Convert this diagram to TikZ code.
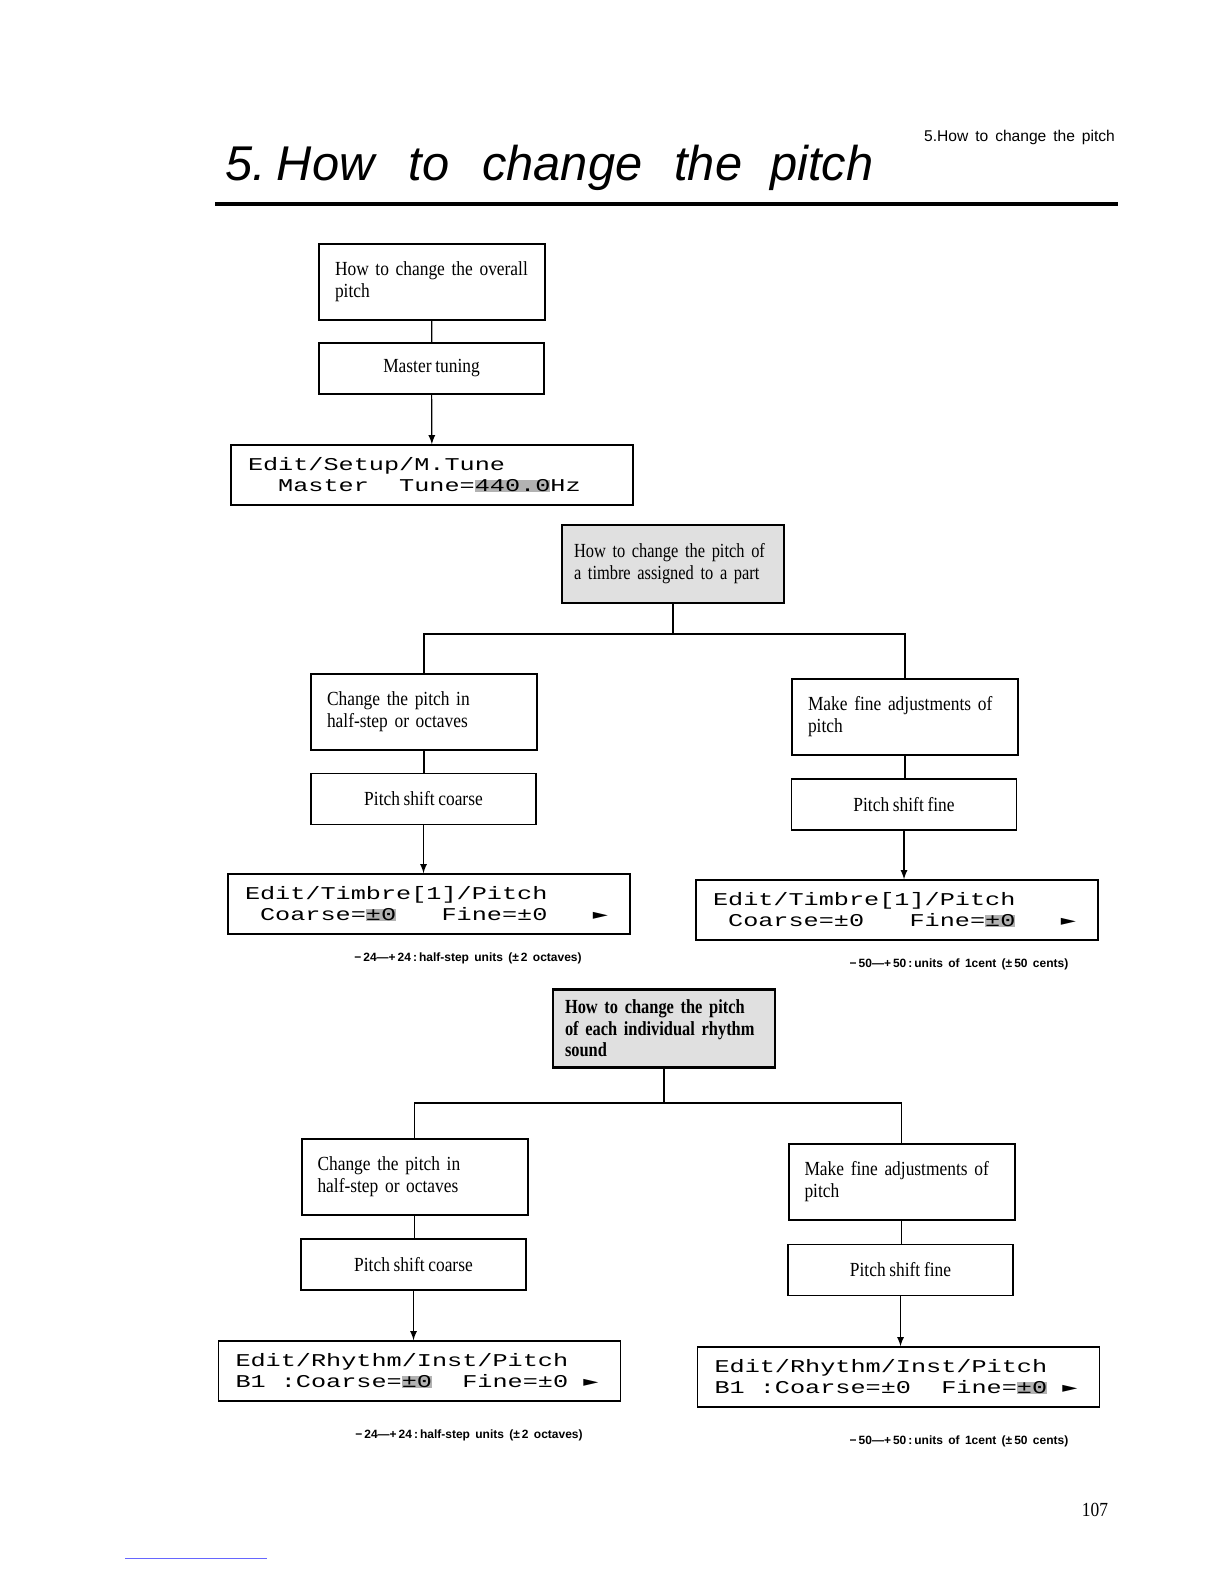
\documentclass[tikz,border=0pt]{standalone}
\usepackage{fontspec}
\usepackage[usenames,dvipsnames]{xcolor}
\usepackage{tikz}
\newfontfamily\boxfont[FakeStretch=0.87, WordSpace=0.85]{Liberation Serif}
\newfontfamily\topicfont[FakeStretch=0.82]{Liberation Serif}
\newfontfamily\lcdfont[FakeStretch=1.4]{Liberation Mono}
\newfontfamily\lcdsym[FakeStretch=1.4]{DejaVu Sans Mono}
\newfontfamily\titlefont{Liberation Sans}
\newfontfamily\headfont[WordSpace=2]{Liberation Sans}
\newfontfamily\capfont[WordSpace=1.6]{Liberation Sans}
\newcommand{\lcdsel}[1]{{\setlength{\fboxsep}{0pt}\colorbox{gray!60}{#1}}}
\newcommand{\lcdsp}{\phantom{0}}
\newcommand{\lcdnext}{{\lcdsym ►}}

\begin{document}
\begin{tikzpicture}[x=0.5pt, y=-0.5pt,
    note/.style={draw, line width=1pt, inner xsep=8pt, text width=97pt, minimum height=38pt, align=left, font=\boxfont\fontsize{10}{11}\selectfont},
    topic/.style={note, line width=1.4pt, fill=gray!24, inner xsep=6pt, text width=99pt, minimum height=39pt, font=\topicfont\fontsize{10}{11}\selectfont},
    key/.style={draw, line width=0.6pt, minimum width=112.5pt, minimum height=25.5pt, font=\boxfont\fontsize{10}{11}\selectfont},
    lcd/.style={draw, line width=0.7pt, inner xsep=8.5pt, text width=184pt, minimum height=30pt, align=left, font=\lcdfont\fontsize{9}{10.5}\selectfont},
    rangenote/.style={font=\capfont\bfseries\fontsize{6}{7}\selectfont},
    link/.style={line width=0.6pt},
    feed/.style={link, ->, >=latex}]
        \useasboundingbox (0,0) rectangle (1224,1584);

        \node[anchor=base west, font=\titlefont\itshape\fontsize{24.4}{28}\selectfont] (title) at (218,180)
            {5.\hspace{5.6pt}How\hspace{17pt}to\hspace{16.5pt}change\hspace{16pt}the\hspace{14pt}pitch};
        \node[anchor=base east, font=\headfont\fontsize{7.8}{9}\selectfont] (head) at (1122,141) {5.How to change the pitch};
        \draw[line width=2pt] (215,204) -- (1118,204);

        \node[note] (ovr) at (432,281.5) {How to change the overall\\pitch};
        \node[key] (mtune) at (431.5,368.5) {Master tuning};
        \node[lcd] (mlcd) at (432,475) {Edit/Setup/M.Tune\\\lcdsp\lcdsp Master\lcdsp\lcdsp Tune=\lcdsel{440.0}Hz};
        \draw[link] (ovr) -- (mtune);
        \draw[feed] (mtune) -- (mlcd);

        \node[topic] (timbre) at (673,564) {How to change the pitch of\\a timbre assigned to a part};
        \node[note] (tl) at (424,711.5) {Change the pitch in\\half-step or octaves};
        \node[note] (tr) at (905,717) {Make fine adjustments of\\pitch};
        \node[key] (tlkey) at (423.5,799) {Pitch shift coarse};
        \node[key] (trkey) at (904,804.5) {Pitch shift fine};
        \node[lcd] (tllcd) at (429,904) {Edit/Timbre[1]/Pitch\\\lcdsp Coarse=\lcdsel{±0}\lcdsp\lcdsp\lcdsp Fine=±0\lcdsp\lcdsp\lcdsp\lcdnext};
        \node[lcd] (trlcd) at (897,910) {Edit/Timbre[1]/Pitch\\\lcdsp Coarse=±0\lcdsp\lcdsp\lcdsp Fine=\lcdsel{±0}\lcdsp\lcdsp\lcdsp\lcdnext};
        \node[rangenote] (tlcap) at (468,958) {−\,24—+\,24\,:\,half-step units (±\,2 octaves)};
        \node[rangenote] (trcap) at (959,964) {−\,50—+\,50\,:\,units of 1cent (±\,50 cents)};
        \coordinate (tbar) at (0,634);
        \draw[link] (timbre.south) -- (timbre.south |- tbar) -| (tl.north);
        \draw[link] (timbre.south |- tbar) -| (tr.north);
        \draw[link] (tl) -- (tl |- tlkey.north);
        \draw[link] (tr) -- (tr |- trkey.north);
        \draw[feed] (tlkey) -- (tlkey |- tllcd.north);
        \draw[feed] (trkey) -- (trkey |- trlcd.north);

        \node[topic, font=\topicfont\bfseries\fontsize{10}{10.8}\selectfont] (rhythm) at (664,1028.5) {How to change the pitch\\of each individual rhythm\\sound};
        \node[note] (rl) at (414.5,1177) {Change the pitch in\\half-step or octaves};
        \node[note] (rr) at (901.5,1182) {Make fine adjustments of\\pitch};
        \node[key] (rlkey) at (413.5,1264.5) {Pitch shift coarse};
        \node[key] (rrkey) at (900.5,1270) {Pitch shift fine};
        \node[lcd] (rllcd) at (419.5,1371) {Edit/Rhythm/Inst/Pitch\\B1\lcdsp:Coarse=\lcdsel{±0}\lcdsp\lcdsp Fine=±0\lcdsp\lcdnext};
        \node[lcd] (rrlcd) at (898.5,1377) {Edit/Rhythm/Inst/Pitch\\B1\lcdsp:Coarse=±0\lcdsp\lcdsp Fine=\lcdsel{±0}\lcdsp\lcdnext};
        \node[rangenote] (rlcap) at (469,1435) {−\,24—+\,24\,:\,half-step units (±\,2 octaves)};
        \node[rangenote] (rrcap) at (959,1441) {−\,50—+\,50\,:\,units of 1cent (±\,50 cents)};
        \coordinate (rbar) at (0,1103);
        \draw[link] (rhythm.south) -- (rhythm.south |- rbar) -| (rl.north);
        \draw[link] (rhythm.south |- rbar) -| (rr.north);
        \draw[link] (rl) -- (rl |- rlkey.north);
        \draw[link] (rr) -- (rr |- rrkey.north);
        \draw[feed] (rlkey) -- (rlkey |- rllcd.north);
        \draw[feed] (rrkey) -- (rrkey |- rrlcd.north);

        \node[font=\boxfont\fontsize{10}{12}\selectfont] (page) at (1095,1510) {107};
        \draw[blue!60, line width=0.5pt] (125,1558) -- (267,1558);
\end{tikzpicture}
\end{document}
